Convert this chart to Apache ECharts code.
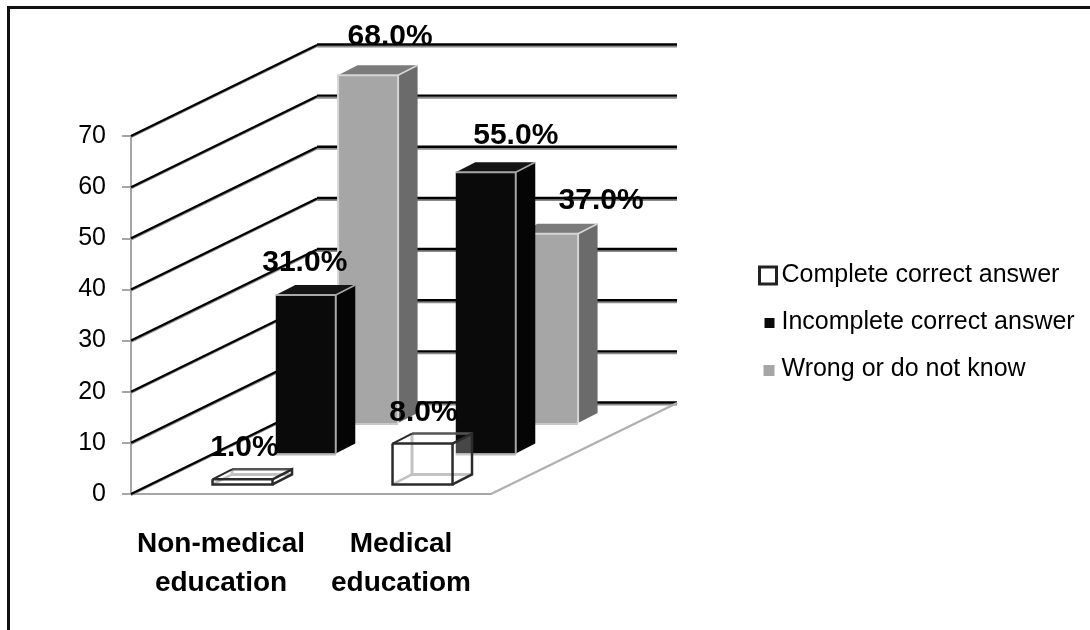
<!DOCTYPE html>
<html>
<head>
<meta charset="utf-8">
<title>Knowledge by education</title>
<script src="https://cdn.jsdelivr.net/npm/echarts@6/dist/echarts.min.js"></script>
<style>
html, body { margin: 0; padding: 0; background: #fff; }
#chart { width: 1090px; height: 630px; }
</style>
</head>
<body>
<div id="chart"></div>
<script>
// Survey results
const categories = ['Non-medical\neducation', 'Medical\neducatiom'];
const completeCorrect = [1, 8];
const incompleteCorrect = [31, 55];
const wrongOrUnknown = [68, 37];
const wallTicks = [0, 10, 20, 30, 40, 50, 60, 70];

const FONT = '"Liberation Sans", Arial, sans-serif';

// Oblique projection of the chart box: how far the back wall sits from the front plane.
const WALL_DX = 186;
const WALL_DY = -91;
// Side and top faces of each prism.
const SIDE_DX = 19.5;
const SIDE_DY = -10;
const BAR_WIDTH = 60;
const BAR_SHIFT = 2;

// Each series stands on its own row of the floor (0 = front plane, 1 = back wall).
const ROW_COMPLETE = 0.105;
const ROW_INCOMPLETE = 0.445;
const ROW_WRONG = 0.78;

// Where each percentage sits relative to the top centre of its bar's front face.
const NUDGE_COMPLETE = [[2, -32], [1, -31]];
const NUDGE_INCOMPLETE = [[-1, -32], [30, -36]];
const NUDGE_WRONG = [[22, -39], [53, -33]];

const GREY_STYLE = {
  front: '#a6a6a6', side: '#6b6b6b', top: '#7b7b7b',
  edge: '#d6d6d6', base: '#c8c8c8', leftEdge: true
};
const BLACK_STYLE = {
  front: '#0a0a0a', side: '#050505', top: '#141414',
  edge: '#a8a8a8', base: '#b8b8b8', leftEdge: false
};

function poly(points, fill) {
  return { type: 'polygon', shape: { points }, style: { fill, stroke: null } };
}
function stroke(points, color, width) {
  return { type: 'polyline', shape: { points }, style: { fill: null, stroke: color, lineWidth: width } };
}
function valueLabel(value, x, y) {
  return {
    type: 'text', x, y, z2: 100,
    style: {
      text: value.toFixed(1) + '%', fill: '#000', align: 'center', verticalAlign: 'middle',
      fontFamily: FONT, fontWeight: 'bold', fontSize: 30
    }
  };
}

// Corners of a prism's front face, placed on its floor row.
function frontFace(api, row) {
  const value = api.value(1);
  const base = api.coord([api.value(0), 0]);
  const top = api.coord([api.value(0), value]);
  const l = base[0] - BAR_WIDTH / 2 + BAR_SHIFT + row * WALL_DX;
  const r = l + BAR_WIDTH;
  const b = base[1] + row * WALL_DY;
  const t = top[1] + row * WALL_DY;
  return { value, l, r, b, t };
}

function solidPrism(row, look, nudges) {
  return function (params, api) {
    const f = frontFace(api, row);
    const n = nudges[params.dataIndex];
    const dx = SIDE_DX, dy = SIDE_DY;
    const outline = look.leftEdge
      ? [[f.l, f.b], [f.l, f.t], [f.r, f.t], [f.r, f.b]]
      : [[f.l, f.t], [f.r, f.t], [f.r, f.b]];
    return {
      type: 'group',
      children: [
        poly([[f.r, f.b], [f.r + dx, f.b + dy], [f.r + dx, f.t + dy], [f.r, f.t]], look.side),
        poly([[f.l, f.t], [f.l + dx, f.t + dy], [f.r + dx, f.t + dy], [f.r, f.t]], look.top),
        poly([[f.l, f.t], [f.r, f.t], [f.r, f.b], [f.l, f.b]], look.front),
        stroke(outline, look.edge, 2),
        stroke([[f.l, f.b + 1], [f.r, f.b + 1]], look.base, 2),
        stroke([[f.r, f.t], [f.r + dx, f.t + dy]], look.edge, 1.5),
        valueLabel(f.value, (f.l + f.r) / 2 + n[0], f.t + n[1])
      ]
    };
  };
}

// The front row is see-through: white tinted faces with dark outlines and pale hidden edges.
function hollowPrism(row, nudges) {
  return function (params, api) {
    const f = frontFace(api, row);
    const n = nudges[params.dataIndex];
    const dx = SIDE_DX, dy = SIDE_DY;
    const dark = '#2b2b2b', pale = '#c2c2c2';
    return {
      type: 'group',
      children: [
        poly([[f.r, f.b], [f.r + dx, f.b + dy], [f.r + dx, f.t + dy], [f.r, f.t]], 'rgba(255,255,255,0.25)'),
        stroke([[f.l + dx, f.t + dy], [f.l + dx, f.b + dy], [f.r + dx, f.b + dy]], pale, 3),
        stroke([[f.l, f.b], [f.l + dx, f.b + dy]], pale, 2.5),
        stroke([[f.l + dx, f.t + dy], [f.r + dx, f.t + dy]], '#555555', 2.5),
        stroke([[f.l, f.t], [f.l + dx, f.t + dy]], dark, 2),
        stroke([[f.r, f.t], [f.r + dx, f.t + dy], [f.r + dx, f.b + dy], [f.r, f.b]], dark, 2.5),
        stroke([[f.l, f.t], [f.r, f.t], [f.r, f.b], [f.l, f.b], [f.l, f.t]], dark, 2.5),
        valueLabel(f.value, (f.l + f.r) / 2 + n[0], f.t + n[1])
      ]
    };
  };
}

// Side wall, back wall and floor edge, one pass per axis tick.
function renderWalls(params, api) {
  const sys = params.coordSys;
  const v = api.value(0);
  const y = api.coord([0, v])[1];
  const x0 = sys.x;
  const x1 = x0 + WALL_DX;
  const x2 = x1 + sys.width;
  const yb = y + WALL_DY;
  const children = [
    stroke([[x0, y + 1.3], [x1, yb + 1.3]], '#8c8c8c', 1.8),
    stroke([[x0, y], [x1, yb]], '#000', 2.2),
    stroke([[x1, yb + 1.5], [x2, yb + 1.5]], '#8a8a8a', 2),
    stroke([[x1, yb - 0.5], [x2, yb - 0.5]], '#000', 2.4)
  ];
  if (v === 0) {
    children.push(stroke([[x0 + sys.width, y], [x2, yb]], '#b0b0b0', 2.4));
  }
  return { type: 'group', children };
}

const chart = echarts.init(document.getElementById('chart'));
chart.setOption({
  animation: false,
  backgroundColor: '#fff',
  textStyle: { fontFamily: FONT },
  graphic: [
    { type: 'polyline', silent: true, shape: { points: [[8.5, 630], [8.5, 7.5], [1090, 7.5]] },
      style: { fill: null, stroke: '#111', lineWidth: 3 } }
  ],
  grid: { left: 131, top: 136, width: 360, height: 358 },
  xAxis: {
    type: 'category',
    data: categories,
    axisLine: { lineStyle: { color: '#a6a6a6', width: 2 } },
    axisTick: { length: 10, lineStyle: { color: '#a6a6a6', width: 2 } },
    axisLabel: {
      color: '#000', fontFamily: FONT, fontWeight: 'bold', fontSize: 28,
      lineHeight: 39, margin: 31, interval: 0
    }
  },
  yAxis: {
    type: 'value', min: 0, max: 70, interval: 10,
    splitLine: { show: false },
    axisLine: { show: true, lineStyle: { color: '#a6a6a6', width: 2 } },
    axisTick: { show: true, length: 9, lineStyle: { color: '#a6a6a6', width: 2 } },
    axisLabel: { color: '#000', fontFamily: FONT, fontSize: 25, margin: 25 }
  },
  legend: {
    orient: 'vertical', left: 758, top: 263, padding: 0,
    itemWidth: 17, itemHeight: 17, itemGap: 22,
    selectedMode: false,
    textStyle: { color: '#000', fontFamily: FONT, fontSize: 25 },
    data: [
      { name: 'Complete correct answer', icon: 'rect',
        itemStyle: { color: '#fff', borderColor: '#222', borderWidth: 3 } },
      { name: 'Incomplete correct answer', icon: 'path://M0 0M17 17M5 4H15V14H5Z',
        itemStyle: { color: '#0a0a0a' } },
      { name: 'Wrong or do not know', icon: 'path://M0 0M17 17M4 4H15V15H4Z',
        itemStyle: { color: '#a6a6a6' } }
    ]
  },
  series: [
    {
      type: 'custom', name: 'Walls', silent: true, clip: false, z: 1,
      data: wallTicks.map(v => [v]), encode: { y: 0 },
      renderItem: renderWalls
    },
    {
      type: 'custom', name: 'Wrong or do not know', silent: true, clip: false, z: 2,
      itemStyle: { color: GREY_STYLE.front },
      data: wrongOrUnknown.map((v, i) => [i, v]), encode: { x: 0, y: 1 },
      renderItem: solidPrism(ROW_WRONG, GREY_STYLE, NUDGE_WRONG)
    },
    {
      type: 'custom', name: 'Incomplete correct answer', silent: true, clip: false, z: 3,
      itemStyle: { color: BLACK_STYLE.front },
      data: incompleteCorrect.map((v, i) => [i, v]), encode: { x: 0, y: 1 },
      renderItem: solidPrism(ROW_INCOMPLETE, BLACK_STYLE, NUDGE_INCOMPLETE)
    },
    {
      type: 'custom', name: 'Complete correct answer', silent: true, clip: false, z: 4,
      itemStyle: { color: '#fff' },
      data: completeCorrect.map((v, i) => [i, v]), encode: { x: 0, y: 1 },
      renderItem: hollowPrism(ROW_COMPLETE, NUDGE_COMPLETE)
    }
  ]
});
</script>
</body>
</html>
